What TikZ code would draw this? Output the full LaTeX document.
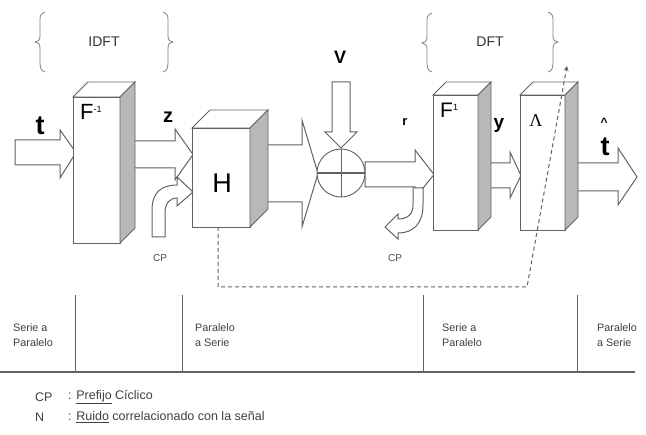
\documentclass[tikz,border=0pt]{standalone}
\usepackage{fontspec}
\setmainfont{Liberation Sans}
\newfontfamily\serifL{Liberation Serif}
\usetikzlibrary{arrows.meta}
\definecolor{ln}{HTML}{626262}
\definecolor{sidef}{HTML}{B8B8B8}
\tikzset{
  edge/.style={draw=ln, line width=1pt},
  arr/.style={draw=ln, line width=1pt, fill=white, line join=miter},
  face/.style={draw=ln, line width=0.9pt, fill=white},
  side/.style={draw=ln, line width=0.9pt, fill=sidef},
  lbl/.style={inner sep=0pt, font=\bfseries},
  brace/.style={draw=ln!80, line width=0.8pt},
  tabtxt/.style={inner sep=0pt, anchor=west, align=left, font=\fontsize{10.8}{15}\selectfont, text=black!75},
  legtxt/.style={inner sep=0pt, anchor=west, font=\fontsize{12.5}{13}\selectfont, text=black!75},
  dashln/.style={draw=ln, line width=1pt, dash pattern=on 4pt off 3pt}
}
% block arrow: xstart, xheadbase, xtip, ybodytop, ybodybot, yheadtop, yheadbot
\newcommand{\barrow}[7]{%
  \draw[arr] (#1,#4) -- (#2,#4) -- (#2,#6) -- (#3,{(#4+#5)/2}) -- (#2,#7) -- (#2,#5) -- (#1,#5) -- cycle;}
% 3D box: x1, x2, ytop, ybot, depth
\newcommand{\tdbox}[5]{%
  \draw[face] (#1,#3) rectangle (#2,#4);
  \draw[face] (#1,#3) -- (#1+#5,#3-#5) -- (#2+#5,#3-#5) -- (#2,#3) -- cycle;
  \draw[side] (#2,#3) -- (#2+#5,#3-#5) -- (#2+#5,#4-#5) -- (#2,#4) -- cycle;}
\begin{document}
\begin{tikzpicture}[x=1pt,y=-1pt]
\useasboundingbox[fill=white] (0,0) rectangle (646,435);

% braces
\draw[brace] (45,12) .. controls (39,14) and (40,18) .. (40,24) -- (40,36) .. controls (40,40) and (38,42) .. (35,42) .. controls (38,42) and (40,44) .. (40,48) -- (40,62) .. controls (40,68) and (41,71) .. (45,72);
\draw[brace] (163,12) .. controls (169,14) and (168,18) .. (168,24) -- (168,36) .. controls (168,40) and (170,42) .. (173,42) .. controls (170,42) and (168,44) .. (168,48) -- (168,62) .. controls (168,68) and (167,71) .. (163,72);
\draw[brace] (432,13) .. controls (426,15) and (427,19) .. (427,25) -- (427,37) .. controls (427,41) and (425,43) .. (422,43) .. controls (425,43) and (427,45) .. (427,49) -- (427,62) .. controls (427,68) and (428,71) .. (432,72);
\draw[brace] (548,12) .. controls (554,14) and (553,18) .. (553,24) -- (553,36) .. controls (553,40) and (555,42) .. (558,42) .. controls (555,42) and (553,44) .. (553,48) -- (553,62) .. controls (553,68) and (552,71) .. (548,72);
\node[inner sep=0pt, font=\fontsize{14}{14}\selectfont, text=black!80] (idft) at (104,42) {IDFT};
\node[inner sep=0pt, font=\fontsize{14}{14}\selectfont, text=black!80] (dft) at (490,42) {DFT};

% arrows behind boxes
\barrow{15}{60}{76}{140}{165}{130}{178}
\barrow{134}{175}{193}{141}{168}{129}{180}
\barrow{267}{302}{318}{145}{202}{120}{227}
\barrow{365}{415}{434}{162}{187}{150}{198}
\barrow{489}{510}{521}{163}{188}{152}{198}
\barrow{576}{618}{637}{163}{191}{148}{205}

% V arrow (vertical)
\draw[arr] (332,82) -- (350,82) -- (350,132) -- (357,132) -- (341,148) -- (325,132) -- (332,132) -- cycle;

% boxes
\tdbox{73}{120}{97}{243}{15}
\tdbox{192}{250}{128}{227}{18}
\tdbox{433}{478}{95}{230}{13}
\tdbox{520}{565}{95}{230}{13}

% summing circle
\draw[face] (341,173) circle (24);
\draw[ln, line width=0.8pt] (341,149) -- (341,197);
\draw[ln, line width=2pt] (317,173) -- (365,173);

% CP arrows
\draw[arr] (152,237) -- (152,210) .. controls (152,192) and (162,185) .. (177,185) -- (177,177) -- (193,192) -- (177,206) -- (177,198) .. controls (170,198) and (165,203) .. (165,213) -- (165,237) -- cycle;
\draw[arr] (413,188) -- (413,205) .. controls (413,214) and (408,219) .. (398,219) -- (398,214) -- (385,227) -- (398,239) -- (398,233) .. controls (414,233) and (423,223) .. (423,205) -- (423,188) -- cycle;

% labels in boxes
\node[inner sep=0pt, anchor=north west, font=\fontsize{22}{22}\selectfont] (fi) at (80,104) {F\raisebox{0.6ex}{\fontsize{9}{9}\selectfont -1}};
\node[inner sep=0pt, font=\fontsize{27}{27}\selectfont] (h) at (222,183) {H};
\node[inner sep=0pt, anchor=north west, font=\fontsize{21}{21}\selectfont] (fd) at (440,103) {F\raisebox{0.6ex}{\fontsize{9}{9}\selectfont 1}};
\node[inner sep=0pt, font=\serifL\fontsize{18}{18}\selectfont] (lam) at (536,121) {Λ};

% signal labels
\node[lbl, font=\bfseries\fontsize{27}{27}\selectfont] (t) at (40,126) {t};
\node[lbl, font=\bfseries\fontsize{20}{20}\selectfont] (z) at (168,117) {z};
\node[lbl, font=\bfseries\fontsize{18}{18}\selectfont] (v) at (340,57) {V};
\node[lbl, font=\bfseries\fontsize{13}{13}\selectfont] (r) at (405,122) {r};
\node[lbl, font=\bfseries\fontsize{19}{19}\selectfont] (y) at (499,125) {y};
\node[lbl, font=\bfseries\fontsize{27}{27}\selectfont] (th) at (605,147) {t};
\node[lbl, font=\bfseries\fontsize{12}{12}\selectfont] (hat) at (604,122) {\textasciicircum};
\node[inner sep=0pt, font=\fontsize{10}{10}\selectfont, text=black!70] (cp1) at (160,258) {CP};
\node[inner sep=0pt, font=\fontsize{10}{10}\selectfont, text=black!70] (cp2) at (395,258) {CP};

% dashed feedback
\coordinate (dtop) at (567,66);
\draw[dashln, -{Stealth[length=5pt,width=5pt]}] (218,227) -- (218,287) -- (527,287) -- (dtop);

% table
\draw[ln, line width=1.4pt] (0,372) -- (635,372);
\foreach \xx in {75,182,423,577} \draw[ln, line width=1pt] (\xx,295) -- (\xx,372);
\node[tabtxt] (s1) at (13,335) {Serie a\\Paralelo};
\node[tabtxt] (s2) at (195,335) {Paralelo\\a Serie};
\node[tabtxt] (s3) at (442,335) {Serie a\\Paralelo};
\node[tabtxt] (s4) at (597,335) {Paralelo\\a Serie};

% legend
\node[legtxt] (l1) at (35,397) {CP};
\node[legtxt] (l1b) at (68,397) {: \underline{Prefijo} Cíclico};
\node[legtxt] (l2) at (35,417) {N};
\node[legtxt] (l2b) at (68,417) {: \underline{Ruido} correlacionado con la señal};
\end{tikzpicture}
\end{document}
